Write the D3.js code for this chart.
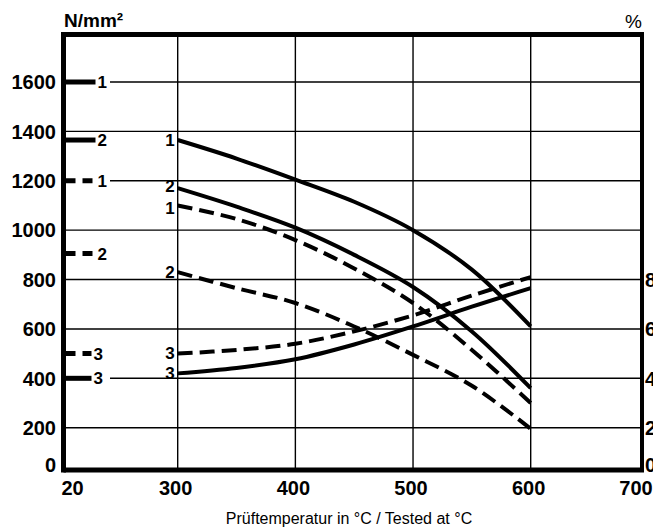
<!DOCTYPE html>
<html>
<head>
<meta charset="utf-8">
<script src="https://cdn.jsdelivr.net/npm/d3@7"></script>
<style>
  body { margin: 0; background: #fff; }
  svg { display: block; }
</style>
</head>
<body>
<svg id="chart"></svg>
<script>
// temperatures where the curves are read (°C)
const temps = [300, 350, 400, 450, 500, 550, 600];

// curve values, N/mm² (curve 3 read on the same scale as %)
const solid1  = [1365, 1290, 1205, 1115, 1000, 840, 610];
const solid2  = [1170, 1095, 1010, 900, 770, 590, 360];
const dashed1 = [1100, 1045, 960, 845, 705, 515, 300];
const dashed2 = [830, 765, 705, 610, 495, 370, 195];
const solid3  = [420, 442, 477, 537, 610, 690, 765];
const dashed3 = [500, 515, 540, 590, 655, 735, 810];

// values at 20 °C, shown as marks on the left axis
const roomLabels  = ['1', '2', '1', '2', '3', '3'];
const roomDashed  = [false, false, true, true, true, false];
const roomValues  = [1600, 1365, 1200, 905, 500, 400];

const xTicks = [20, 300, 400, 500, 600, 700];
const yTicks = [0, 200, 400, 600, 800, 1000, 1200, 1400, 1600];
const pctTicks = [0, 20, 40, 60, 80];

const W = 653, H = 532;
const svg = d3.select('#chart').attr('width', W).attr('height', H);

// the original axis is not quite linear near its ends
const x = d3.scaleLinear().domain([20, 300, 600, 700]).range([63.5, 177.7, 530.7, 642]);
const y = d3.scaleLinear().domain([0, 200, 1600, 1800]).range([470, 427.7, 82, 34.5]);

const tickFont = 'Liberation Sans, Arial, sans-serif';

// gridlines (the ones with a 20 °C mark start after its label)
const gridStart = v => (roomValues.includes(v) && v !== 1365 ? 110 : x(20));
svg.append('g').selectAll('line')
  .data(yTicks.filter(v => v > 0))
  .enter().append('line')
  .attr('x1', d => gridStart(d)).attr('x2', x(700))
  .attr('y1', d => y(d)).attr('y2', d => y(d))
  .attr('stroke', '#000').attr('stroke-width', 1.4);

svg.append('g').selectAll('line')
  .data([300, 400, 500, 600])
  .enter().append('line')
  .attr('x1', d => x(d)).attr('x2', d => x(d))
  .attr('y1', y(1800)).attr('y2', y(0))
  .attr('stroke', '#000').attr('stroke-width', 1.4);

// frame
svg.append('line').attr('x1', x(20)).attr('x2', x(20)).attr('y1', y(1800) - 2.5).attr('y2', y(0) + 2.5)
  .attr('stroke', '#000').attr('stroke-width', 5);
svg.append('line').attr('x1', x(20)).attr('x2', x(700) + 2).attr('y1', y(1800)).attr('y2', y(1800))
  .attr('stroke', '#000').attr('stroke-width', 5);
svg.append('line').attr('x1', x(20)).attr('x2', x(700) + 2).attr('y1', y(0)).attr('y2', y(0))
  .attr('stroke', '#000').attr('stroke-width', 5);
svg.append('line').attr('x1', x(700)).attr('x2', x(700)).attr('y1', y(1800)).attr('y2', y(0))
  .attr('stroke', '#000').attr('stroke-width', 4);

// y tick labels
svg.append('g').selectAll('text')
  .data(yTicks)
  .enter().append('text')
  .attr('x', 56)
  .attr('y', d => (d === 0 ? 465 : y(d)))
  .attr('dy', '0.36em')
  .attr('text-anchor', 'end')
  .attr('font-family', tickFont).attr('font-weight', 'bold').attr('font-size', 20)
  .text(d => d);

// right (%) tick labels, cut off by the page edge as in the original
svg.append('g').selectAll('text')
  .data(pctTicks)
  .enter().append('text')
  .attr('x', 645)
  .attr('y', d => (d === 0 ? 465 : y(d * 10)))
  .attr('dy', '0.36em')
  .attr('font-family', tickFont).attr('font-weight', 'bold').attr('font-size', 20)
  .text(d => d);

// x tick labels
const xLabelPos = d => (d === 20 ? x(d) + 9 : d === 700 ? x(d) - 6 : x(d) - 2);
svg.append('g').selectAll('text')
  .data(xTicks)
  .enter().append('text')
  .attr('x', d => xLabelPos(d))
  .attr('y', 495)
  .attr('text-anchor', 'middle')
  .attr('font-family', tickFont).attr('font-weight', 'bold').attr('font-size', 20)
  .text(d => d);

// units
svg.append('text').attr('x', 64).attr('y', 27)
  .attr('font-family', tickFont).attr('font-weight', 'bold').attr('font-size', 19)
  .text('N/mm²');
svg.append('text').attr('x', 642).attr('y', 28).attr('text-anchor', 'end')
  .attr('font-family', tickFont).attr('font-size', 19)
  .text('%');

// x axis title
svg.append('text').attr('x', 349).attr('y', 524).attr('text-anchor', 'middle')
  .attr('font-family', 'Liberation Sans Narrow, Liberation Sans, sans-serif').attr('font-size', 16)
  .text('Prüftemperatur in °C / Tested at °C');

// 20 °C marks on the left axis
const room = roomValues.map((v, i) => ({ v, label: roomLabels[i], dashed: roomDashed[i] }));
const roomLen = d => (d.label === '3' ? 26 : 30);
svg.append('g').selectAll('line')
  .data(room)
  .enter().append('line')
  .attr('x1', x(20) + 2).attr('x2', d => x(20) + 2 + roomLen(d))
  .attr('y1', d => y(d.v)).attr('y2', d => y(d.v))
  .attr('stroke', '#000').attr('stroke-width', 5)
  .attr('stroke-dasharray', d => (d.dashed ? '10,7' : null));
svg.append('g').selectAll('text')
  .data(room)
  .enter().append('text')
  .attr('x', d => x(20) + 4 + roomLen(d))
  .attr('y', d => y(d.v))
  .attr('dy', '0.36em')
  .attr('font-family', tickFont).attr('font-weight', 'bold').attr('font-size', 17)
  .text(d => d.label);

// curves
const curves = [
  { label: '1', dashed: false, values: solid1, nudge: 0 },
  { label: '2', dashed: false, values: solid2, nudge: -2 },
  { label: '1', dashed: true, values: dashed1, nudge: 2 },
  { label: '2', dashed: true, values: dashed2, nudge: 0 },
  { label: '3', dashed: false, values: solid3, nudge: 0 },
  { label: '3', dashed: true, values: dashed3, nudge: -1 }
];
const line = d3.line()
  .x((d, i) => x(temps[i]))
  .y(d => y(d))
  .curve(d3.curveCatmullRom.alpha(0.5));

svg.append('g').selectAll('path')
  .data(curves)
  .enter().append('path')
  .attr('d', d => line(d.values))
  .attr('fill', 'none')
  .attr('stroke', '#000').attr('stroke-width', 4)
  .attr('stroke-dasharray', d => (d.dashed ? '15,7' : null));

svg.append('g').selectAll('text')
  .data(curves)
  .enter().append('text')
  .attr('x', x(300) - 3)
  .attr('y', d => y(d.values[0]) + d.nudge)
  .attr('dy', '0.36em')
  .attr('text-anchor', 'end')
  .attr('font-family', tickFont).attr('font-weight', 'bold').attr('font-size', 17)
  .text(d => d.label);
</script>
</body>
</html>
